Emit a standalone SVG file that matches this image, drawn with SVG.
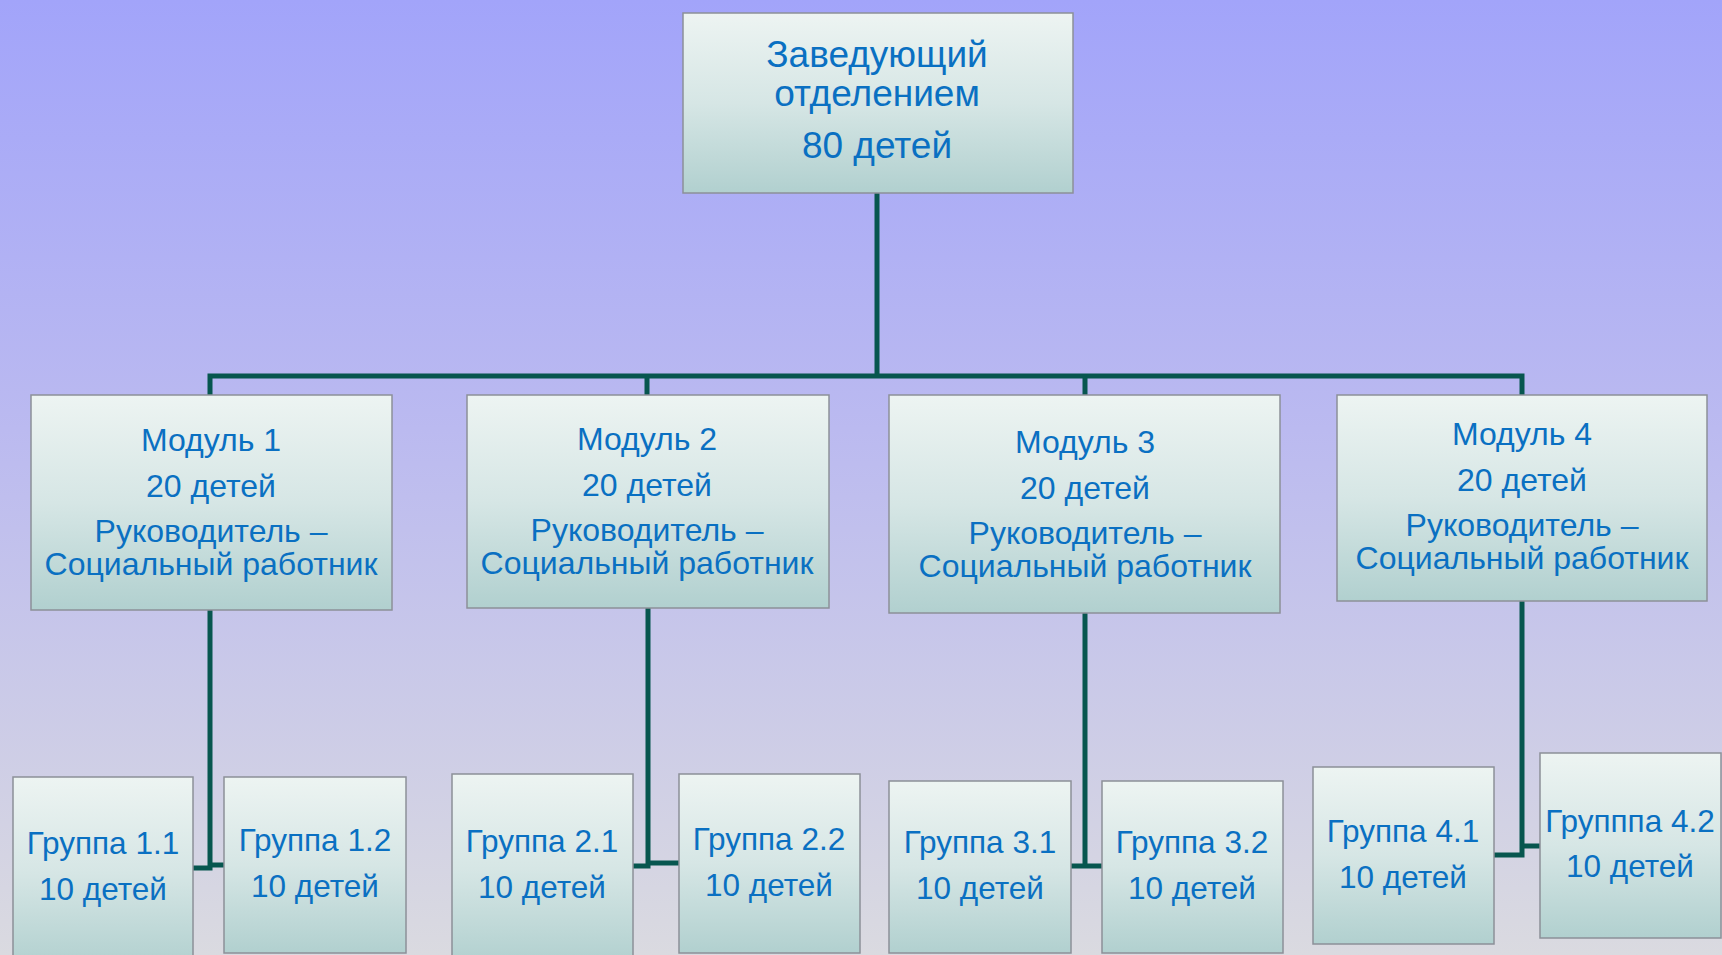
<svg xmlns="http://www.w3.org/2000/svg" width="1722" height="955" viewBox="0 0 1722 955">
<defs>
<linearGradient id="bg" x1="0" y1="0" x2="0" y2="1">
<stop offset="0" stop-color="#a2a4fa"/>
<stop offset="0.45" stop-color="#bbbaf0"/>
<stop offset="1" stop-color="#dadae0"/>
</linearGradient>
<linearGradient id="box" x1="0" y1="0" x2="0" y2="1">
<stop offset="0" stop-color="#edf4f2"/>
<stop offset="0.5" stop-color="#d6e6e5"/>
<stop offset="1" stop-color="#b1d0cf"/>
</linearGradient>
<style>
.n{fill:url(#box);stroke:#8c9098;stroke-width:1.5}
.t{font-family:"Liberation Sans",Arial,sans-serif;fill:#0a70c2;text-anchor:middle}
.top{font-size:37px}
.m{font-size:32px}
.g{font-size:31.5px}
.c{fill:none;stroke:#07564f;stroke-width:5;stroke-linejoin:miter}
</style>
</defs>
<rect x="0" y="0" width="1722" height="955" fill="url(#bg)"/>
<g id="connectors">
<path class="c" d="M877,193 V376 M210,395 V376 H1522 V395 M647,376 V395 M1085,376 V395"/>
<path class="c" d="M193,868 H210 V610 M210,865 H224"/>
<path class="c" d="M633,866 H648 V608 M648,863 H679"/>
<path class="c" d="M1071,866 H1085 V613 M1085,866 H1102"/>
<path class="c" d="M1494,855 H1522 V601 M1522,846 H1540"/>
</g>
<g id="head">
<rect class="n" x="683" y="13" width="390" height="180"/>
<text class="t top" x="877" y="67">Заведующий</text>
<text class="t top" x="877" y="106">отделением</text>
<text class="t top" x="877" y="158">80 детей</text>
</g>
<g id="module1">
<rect class="n" x="31" y="395" width="361" height="215"/>
<text class="t m" x="211" y="451">Модуль 1</text>
<text class="t m" x="211" y="497">20 детей</text>
<text class="t m" x="211" y="542">Руководитель –</text>
<text class="t m" x="211" y="575">Социальный работник</text>
</g>
<g id="module2">
<rect class="n" x="467" y="395" width="362" height="213"/>
<text class="t m" x="647" y="450">Модуль 2</text>
<text class="t m" x="647" y="496">20 детей</text>
<text class="t m" x="647" y="541">Руководитель –</text>
<text class="t m" x="647" y="574">Социальный работник</text>
</g>
<g id="module3">
<rect class="n" x="889" y="395" width="391" height="218"/>
<text class="t m" x="1085" y="453">Модуль 3</text>
<text class="t m" x="1085" y="499">20 детей</text>
<text class="t m" x="1085" y="544">Руководитель –</text>
<text class="t m" x="1085" y="577">Социальный работник</text>
</g>
<g id="module4">
<rect class="n" x="1337" y="395" width="370" height="206"/>
<text class="t m" x="1522" y="445">Модуль 4</text>
<text class="t m" x="1522" y="491">20 детей</text>
<text class="t m" x="1522" y="536">Руководитель –</text>
<text class="t m" x="1522" y="569">Социальный работник</text>
</g>
<g id="group11">
<rect class="n" x="13" y="777" width="180" height="190"/>
<text class="t g" x="103" y="854">Группа 1.1</text>
<text class="t g" x="103" y="900">10 детей</text>
</g>
<g id="group12">
<rect class="n" x="224" y="777" width="182" height="176"/>
<text class="t g" x="315" y="851">Группа 1.2</text>
<text class="t g" x="315" y="897">10 детей</text>
</g>
<g id="group21">
<rect class="n" x="452" y="774" width="181" height="190"/>
<text class="t g" x="542" y="852">Группа 2.1</text>
<text class="t g" x="542" y="898">10 детей</text>
</g>
<g id="group22">
<rect class="n" x="679" y="774" width="181" height="179"/>
<text class="t g" x="769" y="850">Группа 2.2</text>
<text class="t g" x="769" y="896">10 детей</text>
</g>
<g id="group31">
<rect class="n" x="889" y="781" width="182" height="172"/>
<text class="t g" x="980" y="853">Группа 3.1</text>
<text class="t g" x="980" y="899">10 детей</text>
</g>
<g id="group32">
<rect class="n" x="1102" y="781" width="181" height="172"/>
<text class="t g" x="1192" y="853">Группа 3.2</text>
<text class="t g" x="1192" y="899">10 детей</text>
</g>
<g id="group41">
<rect class="n" x="1313" y="767" width="181" height="177"/>
<text class="t g" x="1403" y="842">Группа 4.1</text>
<text class="t g" x="1403" y="888">10 детей</text>
</g>
<g id="group42">
<rect class="n" x="1540" y="753" width="181" height="185"/>
<text class="t g" x="1630" y="832">Групппа 4.2</text>
<text class="t g" x="1630" y="877">10 детей</text>
</g>
</svg>
